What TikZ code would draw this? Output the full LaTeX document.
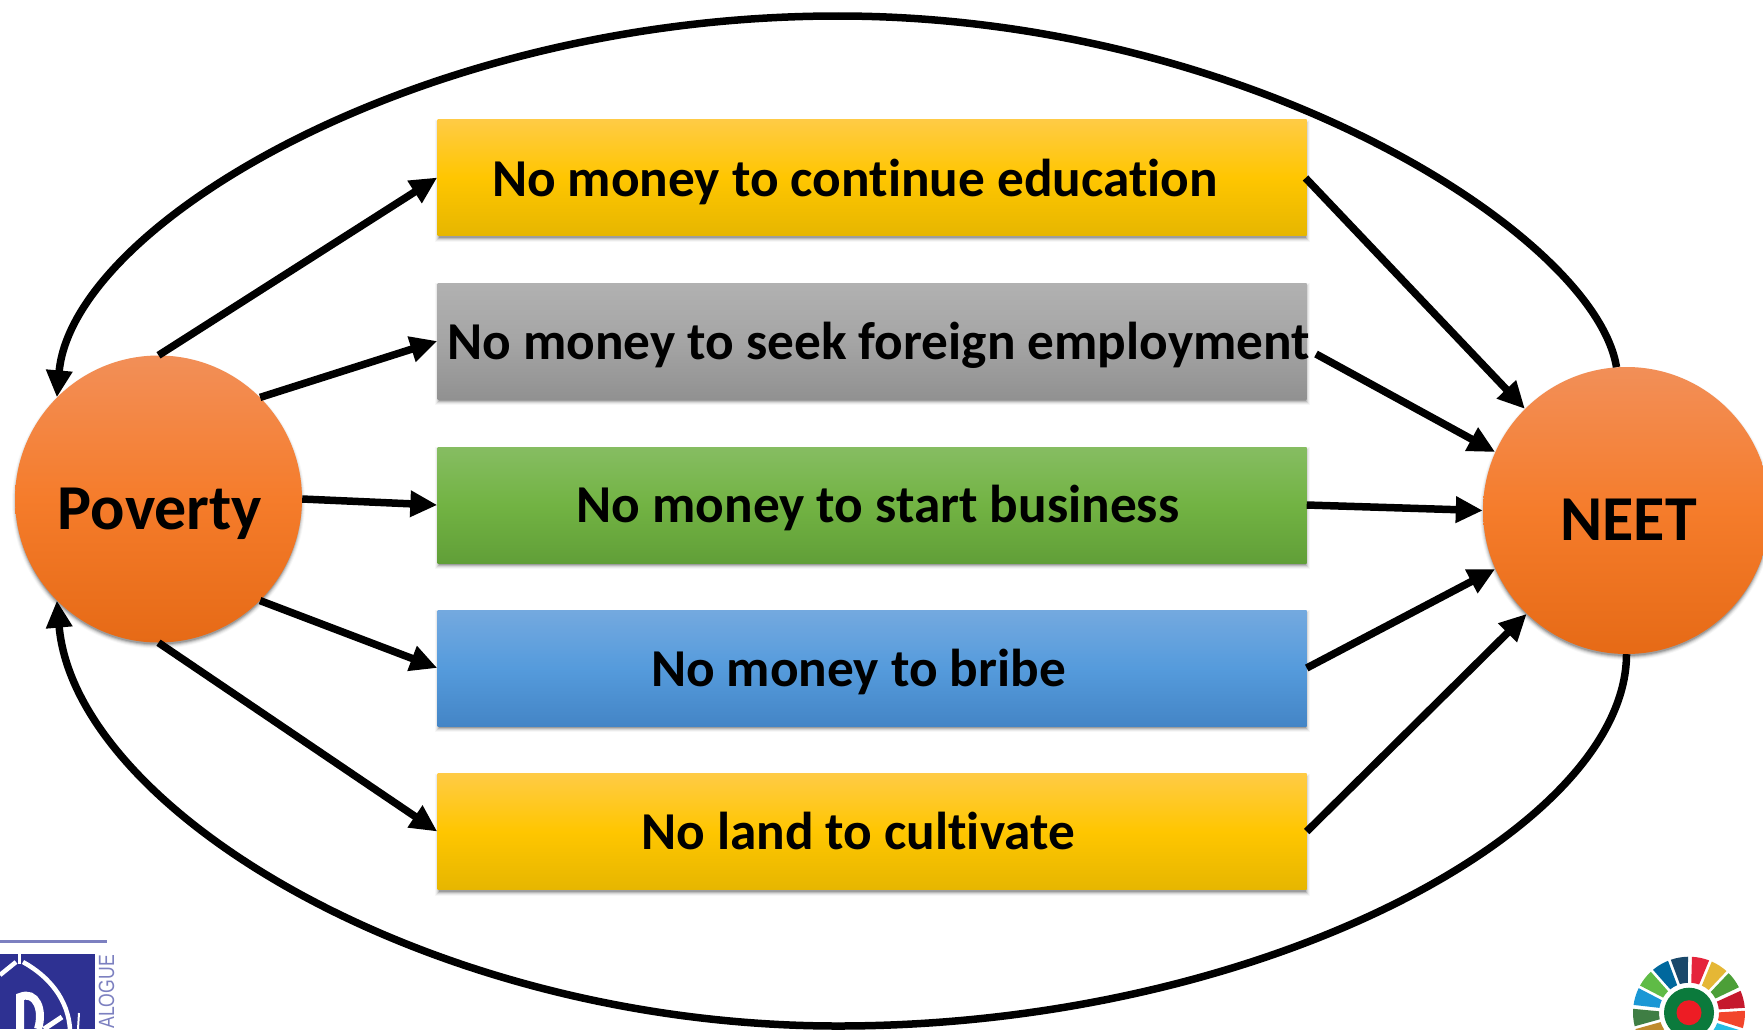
\documentclass[tikz,border=0pt]{standalone}
\usepackage{fontspec}
\setmainfont[Ligatures=NoCommon]{Carlito}
\newfontfamily\logofont[FakeStretch=0.8]{Liberation Sans}
\usetikzlibrary{arrows.meta,calc}
\definecolor{yt}{HTML}{FFCB45}\definecolor{ym}{HTML}{FFC600}\definecolor{yb}{HTML}{E6B600}
\definecolor{gt}{HTML}{B1B1B1}\definecolor{gm}{HTML}{A5A5A5}\definecolor{gb}{HTML}{919191}
\definecolor{vt}{HTML}{86BD62}\definecolor{vm}{HTML}{72B343}\definecolor{vb}{HTML}{619F38}
\definecolor{bt}{HTML}{74A9DF}\definecolor{bm}{HTML}{559BDC}\definecolor{bb}{HTML}{4485C6}
\definecolor{ot}{HTML}{F28F58}\definecolor{om}{HTML}{F57C2B}\definecolor{ob}{HTML}{E66A16}
\definecolor{logoblue}{HTML}{2E3192}\definecolor{logotext}{HTML}{7C80C0}
\definecolor{lgreen}{HTML}{0B7A3C}\definecolor{lred}{HTML}{ED1C24}
\tikzset{
 boxbase/.style={rectangle,minimum width=869pt,minimum height=116pt,inner sep=0pt},
 yellowbox/.style={boxbase,top color=yt,bottom color=yb,middle color=ym},
 graybox/.style={boxbase,top color=gt,bottom color=gb,middle color=gm},
 greenbox/.style={boxbase,top color=vt,bottom color=vb,middle color=vm},
 bluebox/.style={boxbase,top color=bt,bottom color=bb,middle color=bm},
 orangecirc/.style={circle,minimum size=287pt,inner sep=0pt,top color=ot,bottom color=ob,middle color=om},
 boxtext/.style={font=\bfseries\fontsize{53.3}{53.3}\selectfont,text=black,anchor=base,inner sep=0pt},
 circtext/.style={font=\bfseries\fontsize{64}{64}\selectfont,text=black,anchor=base,inner sep=0pt},
 link/.style={line width=7.5pt,-{Triangle[length=27pt,width=25pt]}},
 loopline/.style={line width=7.5pt},
}
\newcommand{\wpt}[2]{($(wc)+({sin(#2)*#1},{-cos(#2)*#1})$)}
\newcommand{\boxshadow}[1]{\foreach \k/\o in {3/.03,2/.05,1/.08,0/.12,-1/.16}{\fill[black,opacity=\o] (437.5-\k,#1-58+3-\k) rectangle (1306.5+\k,#1+58+3+\k);}}
\newcommand{\circshadow}[2]{\foreach \k/\o in {3/.03,2/.05,1/.08,0/.12,-1/.16}{\fill[black,opacity=\o] (#1,#2+3) circle[radius=143.5+\k];}}
\begin{document}
\begin{tikzpicture}[x=1pt,y=-1pt]
\useasboundingbox (0,0) rectangle (1763,1029);
\clip (0,0) rectangle (1763,1029);
\fill[white] (0,0) rectangle (1763,1029);
% shadows
\boxshadow{177.5}\boxshadow{341}\boxshadow{505}\boxshadow{668}\boxshadow{831.5}
\circshadow{158.5}{499}\circshadow{1626.5}{510.5}
% boxes
\node[yellowbox] (b1) at (872,177.5) {};
\node[graybox]   (b2) at (872,341) {};
\node[greenbox]  (b3) at (872,505) {};
\node[bluebox]   (b4) at (872,668) {};
\node[yellowbox] (b5) at (872,831.5) {};
\node[boxtext] (t1) at (855,196.5) {No money to continue education};
\node[boxtext] (t2) at (878.7,359.5) {No money to seek foreign employment};
\node[boxtext] (t3) at (878,522.5) {No money to start business};
\node[boxtext] (t4) at (858.5,686.5) {No money to bribe};
\node[boxtext] (t5) at (858,849.5) {No land to cultivate};
% circles
\node[orangecirc] (pov) at (158.5,499) {};
\node[orangecirc] (neet) at (1626.5,510.5) {};
\node[circtext] (tp) at (160,529) {Poverty};
\node[circtext] (tn) at (1628.5,540) {NEET};
% links
\coordinate (b2out) at (1316,354);
\coordinate (b1out) at (1305.5,178);
\draw[link] (pov.north) -- (b1.west);
\draw[link] (pov.45) -- (b2.west);
\draw[link] (pov.east) -- (b3.west);
\draw[link] (pov.-45) -- (b4.west);
\draw[link] (pov.south) -- (b5.west);
\draw[link] (b1out) -- (neet.135);
\draw[link] (b2out) -- (neet.156);
\draw[link] (b3.east) -- (neet.west);
\draw[link] (b4.east) -- (neet.204);
\draw[link] (b5.east) -- (neet.226);
% loops
\coordinate (topm) at (838,16);
\coordinate (botm) at (838,1026);
\draw[loopline] (neet.94) .. controls (1595,235) and (1250,16) .. (topm);
\draw[link] (topm) .. controls (420,16) and (72,225) .. (pov.135);
\draw[loopline] (neet.-90) .. controls (1626,830) and (1260,1026) .. (botm);
\draw[link] (botm) .. controls (430,1026) and (75,810) .. (pov.-135);
% left logo
\draw[logotext,line width=2.5pt] (0,941.7) -- (107,941.7);
\fill[logoblue] (0,954) rectangle (95,1029);
\draw[white,line width=4.5pt] (0,975) -- (16,962);
\draw[white,line width=4.5pt] (23,962) .. controls (50,977) and (68,1000) .. (70,1029);
\draw[white,line width=3pt] (19.5,954) -- (19.5,964);
\draw[white,line width=8pt] (20,1029) -- (20,997) .. controls (36,990) and (44,1010) .. (38,1029);
\draw[white,line width=5pt] (44,1029) -- (62,1017);
\draw[white,line width=2pt] (78,1029) -- (79,1013);
\node[rotate=90,anchor=east,font=\logofont\fontsize{22}{22}\selectfont,text=logotext,inner sep=0pt] (logot) at (106.5,955) {ALOGUE};
% right logo
\coordinate (wc) at (1689,1012.7);
\foreach \a/\c in {12/E5243B,33/E5B735,54/4C9F38,76/C5192D,97/F2452B,118/26BDE2,-10/19486A,-31/00689D,-52/5FBB46,-73/1A97D5,-95/3F7E44,-116/BF8B2E,-137/DDA63A,-158/A21942,139/FD6925,160/FD9D24,181/E5243B}{
 \definecolor{tmpc}{HTML}{\c}
 \fill[tmpc] \wpt{56}{\a-9} -- \wpt{56}{\a-4.5} -- \wpt{56}{\a} -- \wpt{56}{\a+4.5} -- \wpt{56}{\a+9}
   -- \wpt{30}{\a+7.7} -- \wpt{30}{\a} -- \wpt{30}{\a-7.7} -- cycle;
}
\node[circle,fill=lgreen,minimum size=50pt,inner sep=0pt] (lo) at (wc) {};
\node[circle,fill=lred,minimum size=25pt,inner sep=0pt] (lr) at (wc) {};
\end{tikzpicture}
\end{document}
